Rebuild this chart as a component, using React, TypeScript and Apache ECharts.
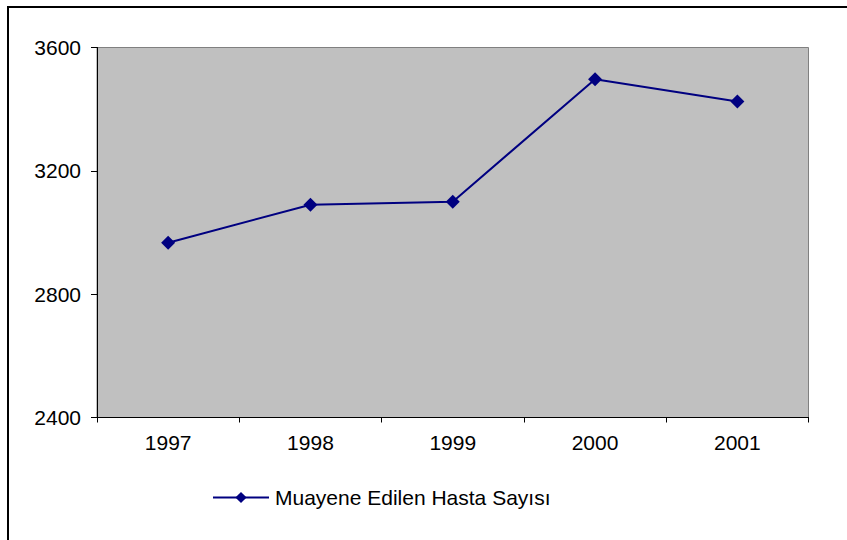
import React, { useEffect, useRef } from "react";
import * as echarts from "echarts";

const years = ["1997", "1998", "1999", "2000", "2001"];
const patients = [2967, 3090, 3100, 3497, 3425];
const seriesName = "Muayene Edilen Hasta Sayısı";
const yMin = 2400;
const yMax = 3600;
const yStep = 400;

export default function App() {
  const ref = useRef<HTMLDivElement>(null);
  useEffect(() => {
    if (!ref.current) return;
    const chart = echarts.init(ref.current, null, { renderer: "svg" });
    const font = "'Liberation Sans', Arial, sans-serif";
    chart.setOption({
      animation: false,
      backgroundColor: "transparent",
      textStyle: { fontFamily: font },
      grid: {
        left: 97,
        top: 47.5,
        right: 38.5,
        bottom: 122.5,
        show: true,
        backgroundColor: "#c0c0c0",
        borderColor: "#808080",
        borderWidth: 1,
      },
      xAxis: {
        type: "category",
        data: years,
        boundaryGap: true,
        axisLine: { show: true, lineStyle: { color: "#000", width: 1 } },
        axisTick: { show: true, alignWithLabel: false, length: 5, lineStyle: { color: "#000" } },
        axisLabel: { color: "#000", fontSize: 21, fontFamily: font, margin: 14 },
        splitLine: { show: false },
      },
      yAxis: {
        type: "value",
        min: yMin,
        max: yMax,
        interval: yStep,
        axisLine: { show: true, lineStyle: { color: "#000", width: 1 } },
        axisTick: { show: true, length: 6, lineStyle: { color: "#000" } },
        axisLabel: {
          color: "#000",
          fontSize: 21,
          fontFamily: font,
          margin: 16,
          formatter: (v: number) => String(v),
        },
        splitLine: { show: false },
      },
      legend: {
        show: true,
        left: 207,
        top: 482,
        itemWidth: 56,
        itemHeight: 14,
        itemGap: 10,
        textStyle: { color: "#000", fontSize: 21, fontFamily: font, padding: [0, 0, 0, 1] },
        data: [{ name: seriesName }],
      },
      series: [
        {
          name: seriesName,
          type: "line",
          data: patients,
          symbol: "diamond",
          symbolSize: 14,
          color: "#000080",
          lineStyle: { color: "#000080", width: 2 },
          itemStyle: { color: "#000080" },
        },
      ],
    });
    return () => chart.dispose();
  }, []);
  return (
    <>
      <div
        style={{
          position: "absolute",
          left: 7,
          top: 6,
          width: 840,
          height: 534,
          boxSizing: "border-box",
          borderLeft: "2px solid #000",
          borderTop: "2px solid #000",
        }}
      />
      <div
        ref={ref}
        style={{ position: "absolute", left: 0, top: 0, width: 847, height: 540 }}
      />
    </>
  );
}
